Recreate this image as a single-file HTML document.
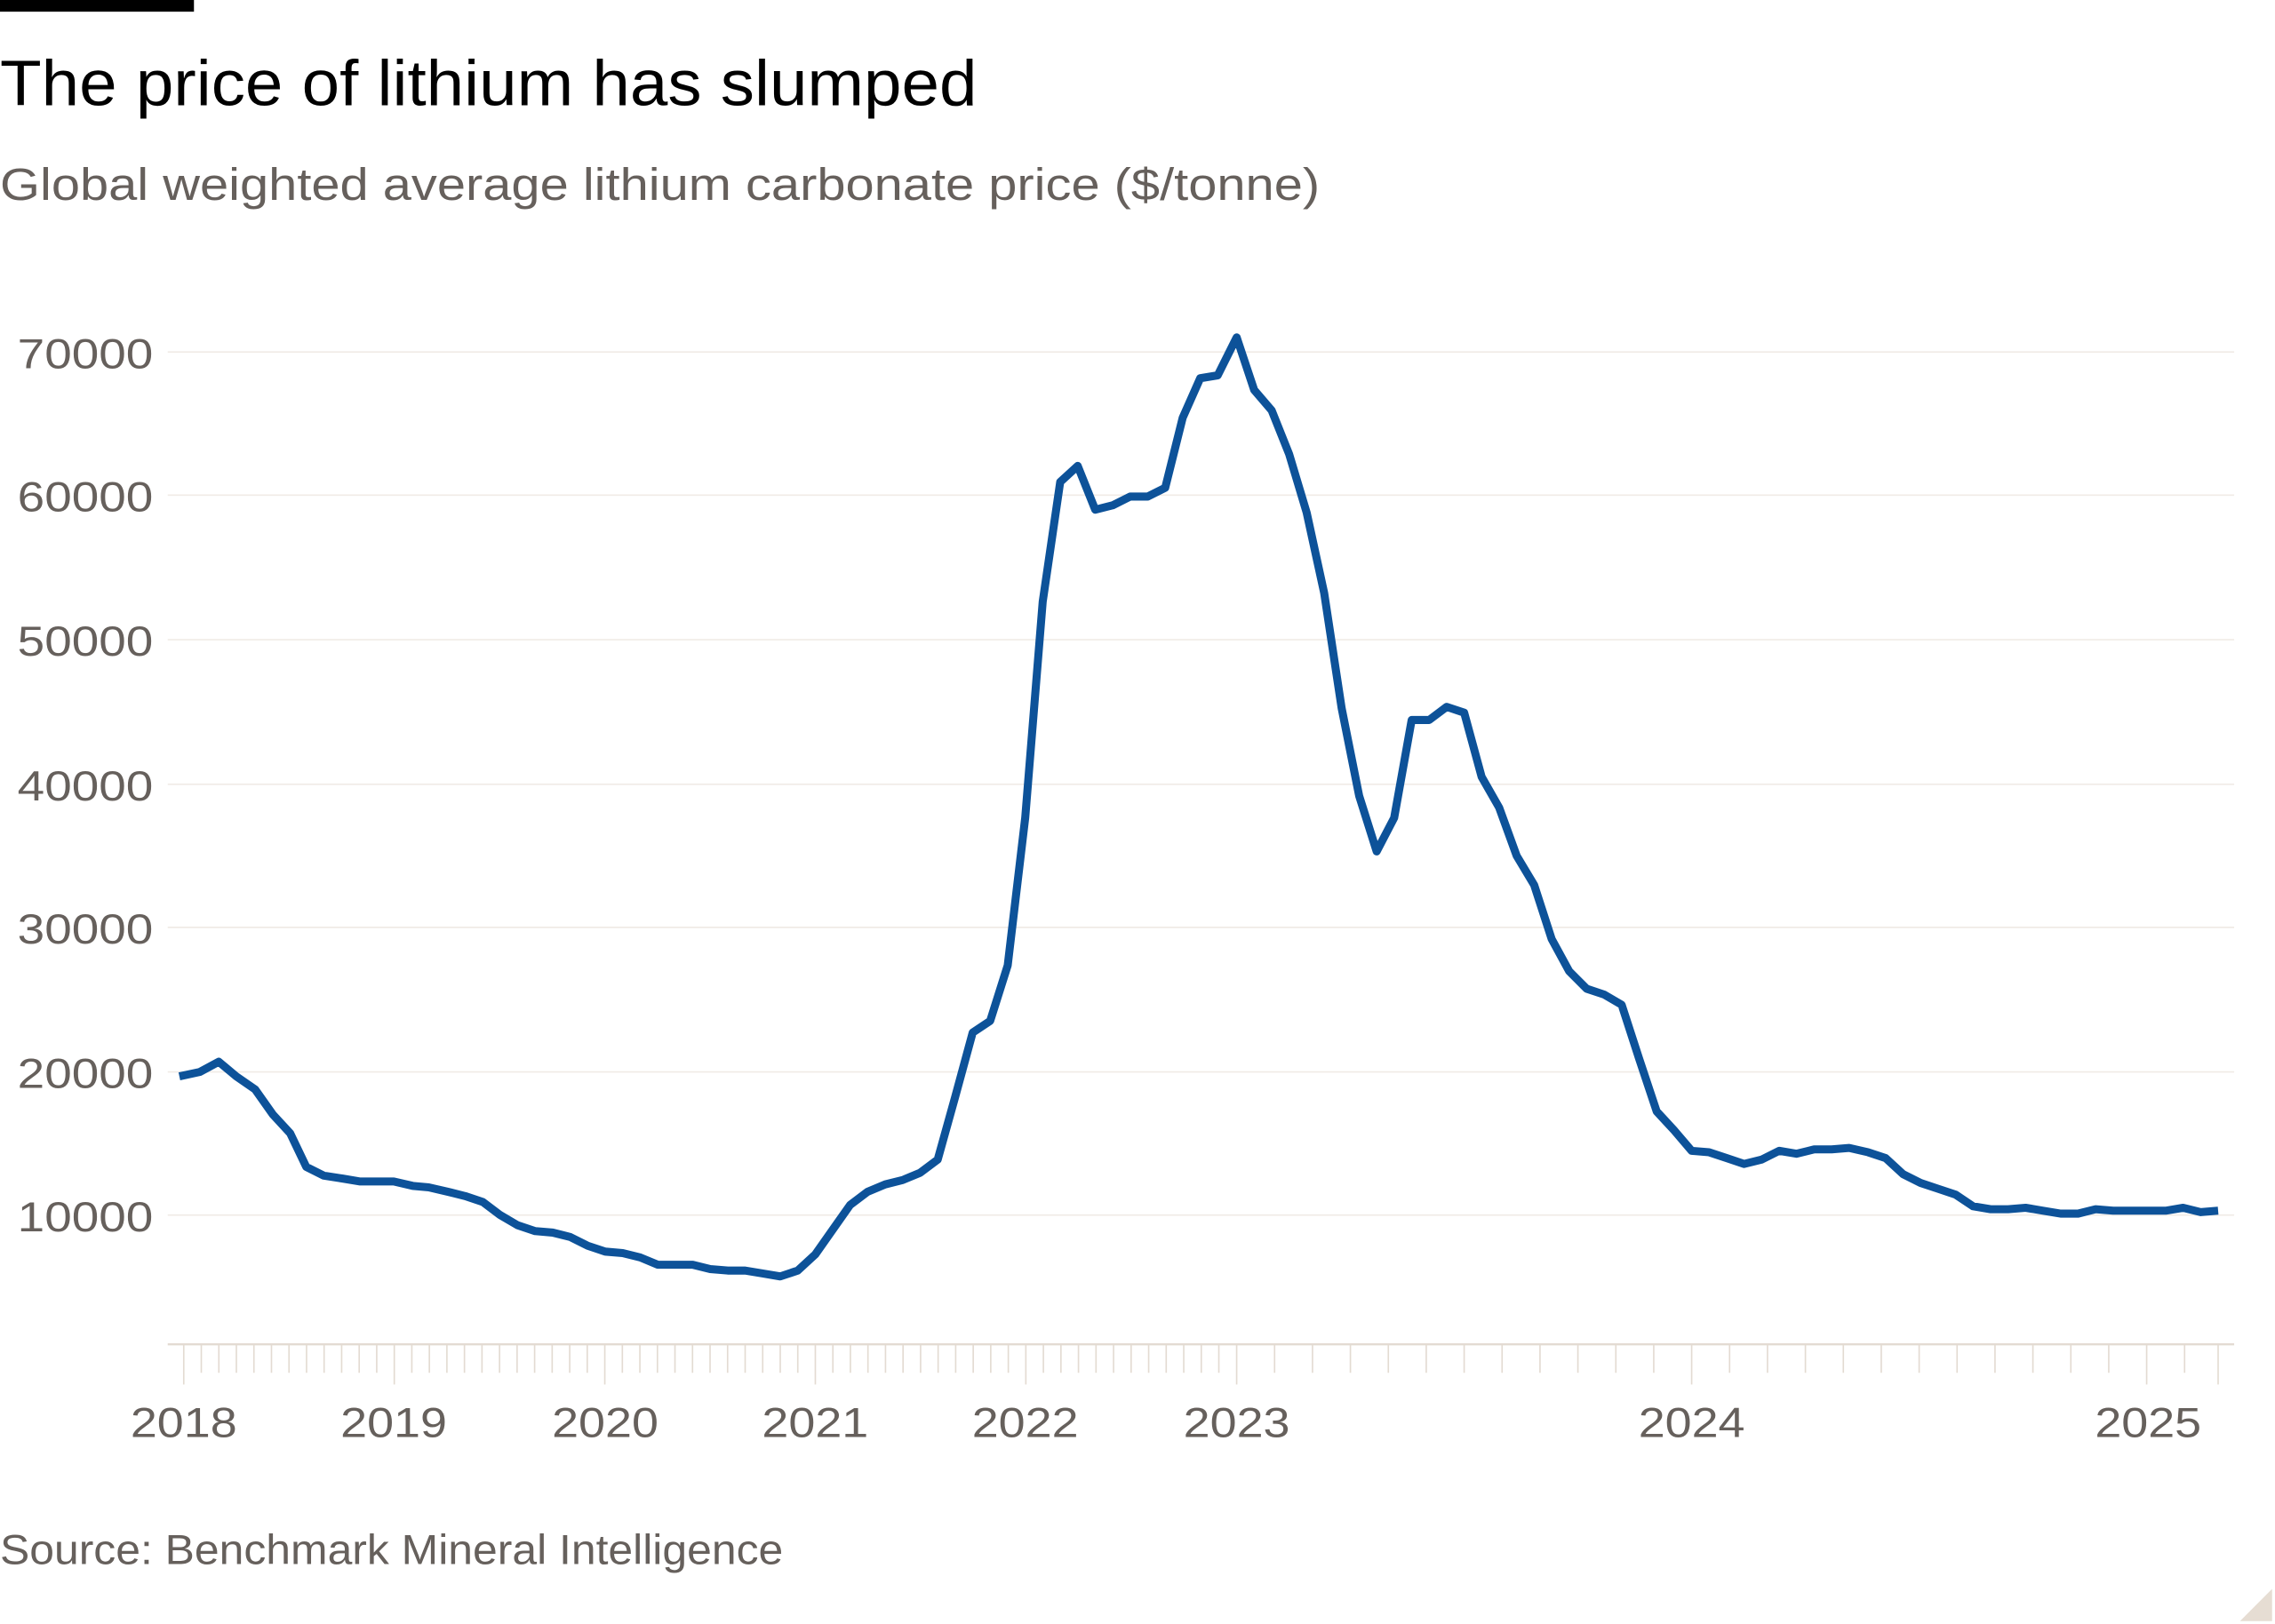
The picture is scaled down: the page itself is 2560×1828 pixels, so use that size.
<!DOCTYPE html>
<html><head><meta charset="utf-8"><style>
html,body{margin:0;padding:0;background:#fff;width:2560px;height:1828px;overflow:hidden}
svg{display:block}
text{font-family:"Liberation Sans",sans-serif}
</style></head><body>
<svg width="2560" height="1828" viewBox="0 0 1560 1112" preserveAspectRatio="none">
<rect x="0" y="0" width="133" height="8" fill="#000"/>
<text x="0" y="72" font-size="44" fill="#000" textLength="670" lengthAdjust="spacingAndGlyphs">The price of lithium has slumped</text>
<text x="0" y="137" font-size="31" fill="#66605c" textLength="905" lengthAdjust="spacingAndGlyphs">Global weighted average lithium carbonate price ($/tonne)</text>
<g stroke="#f0ebe6" stroke-width="1">
<line x1="115" x2="1532" y1="241" y2="241"/>
<line x1="115" x2="1532" y1="339" y2="339"/>
<line x1="115" x2="1532" y1="438" y2="438"/>
<line x1="115" x2="1532" y1="537" y2="537"/>
<line x1="115" x2="1532" y1="635" y2="635"/>
<line x1="115" x2="1532" y1="734" y2="734"/>
<line x1="115" x2="1532" y1="832" y2="832"/>
</g>
<line x1="115" x2="1532" y1="920.5" y2="920.5" stroke="#e3dbd2" stroke-width="1.5"/>
<g fill="#66605c" font-size="29">
<text x="12" y="252" textLength="93" lengthAdjust="spacingAndGlyphs">70000</text>
<text x="12" y="350" textLength="93" lengthAdjust="spacingAndGlyphs">60000</text>
<text x="12" y="449" textLength="93" lengthAdjust="spacingAndGlyphs">50000</text>
<text x="12" y="548" textLength="93" lengthAdjust="spacingAndGlyphs">40000</text>
<text x="12" y="646" textLength="93" lengthAdjust="spacingAndGlyphs">30000</text>
<text x="12" y="745" textLength="93" lengthAdjust="spacingAndGlyphs">20000</text>
<text x="12" y="843" textLength="93" lengthAdjust="spacingAndGlyphs">10000</text>
</g>
<g id="ticks" stroke="#e3dbd2" stroke-width="1"></g>
<g fill="#66605c" font-size="29" text-anchor="middle">
<text x="126" y="984" textLength="73" lengthAdjust="spacingAndGlyphs">2018</text>
<text x="270" y="984" textLength="73" lengthAdjust="spacingAndGlyphs">2019</text>
<text x="415" y="984" textLength="73" lengthAdjust="spacingAndGlyphs">2020</text>
<text x="559" y="984" textLength="73" lengthAdjust="spacingAndGlyphs">2021</text>
<text x="703" y="984" textLength="73" lengthAdjust="spacingAndGlyphs">2022</text>
<text x="848" y="984" textLength="73" lengthAdjust="spacingAndGlyphs">2023</text>
<text x="1160" y="984" textLength="73" lengthAdjust="spacingAndGlyphs">2024</text>
<text x="1473" y="984" textLength="73" lengthAdjust="spacingAndGlyphs">2025</text>
</g>
<text x="0" y="1071" font-size="29" fill="#66605c" textLength="537" lengthAdjust="spacingAndGlyphs">Source: Benchmark Mineral Intelligence</text>
<polygon points="1536,1110 1558,1110 1558,1088" fill="#e6ddd3"/>
<polyline fill="none" stroke="#0d5299" stroke-width="5.5" stroke-linejoin="round" points="123,737 137,734 150,727 162,737 175,746 187,763 199,776 210,799 222,805 235,807 247,809 258,809 270,809 283,812 294,813 307,816 319,819 331,823 343,832 355,839 367,843 379,844 391,847 403,853 415,857 427,858 439,861 451,866 463,866 475,866 487,869 499,870 511,870 523,872 535,874 547,870 559,859 571,842 583,825 595,816 607,811 619,808 631,803 643,794 655,751 667,707 679,699 691,661 703,560 715,412 727,330 739,319 751,349 763,346 775,340 787,340 799,334 811,286 823,259 835,257 848,231 860,267 872,281 884,311 896,351 908,406 920,485 932,545 944,583 956,560 968,493 980,493 992,484 1004,488 1016,532 1028,553 1040,586 1052,606 1064,643 1076,665 1088,677 1100,681 1112,688 1124,725 1136,761 1148,774 1160,788 1172,789 1184,793 1196,797 1208,794 1220,788 1232,790 1244,787 1256,787 1268,786 1281,789 1293,793 1305,804 1317,810 1329,814 1341,818 1353,826 1365,828 1377,828 1389,827 1401,829 1413,831 1425,831 1437,828 1449,829 1461,829 1473,829 1485,829 1497,827 1509,830 1521,829"/>
</svg>
<script>
var g=document.getElementById('ticks'),s='';
for(var i=0;i<60;i++){var x=126+i*12.03;s+='<line x1="'+x+'" x2="'+x+'" y1="921" y2="'+(i%12==0?948:940)+'"/>';}
for(var j=0;j<=26;j++){var x=848+j*26;if(x>1522)break;var m=(j%12==0);s+='<line x1="'+x+'" x2="'+x+'" y1="921" y2="'+(m?948:940)+'"/>';}
s+='<line x1="1521" x2="1521" y1="921" y2="948"/>';
g.innerHTML=s;
</script>
</body></html>
